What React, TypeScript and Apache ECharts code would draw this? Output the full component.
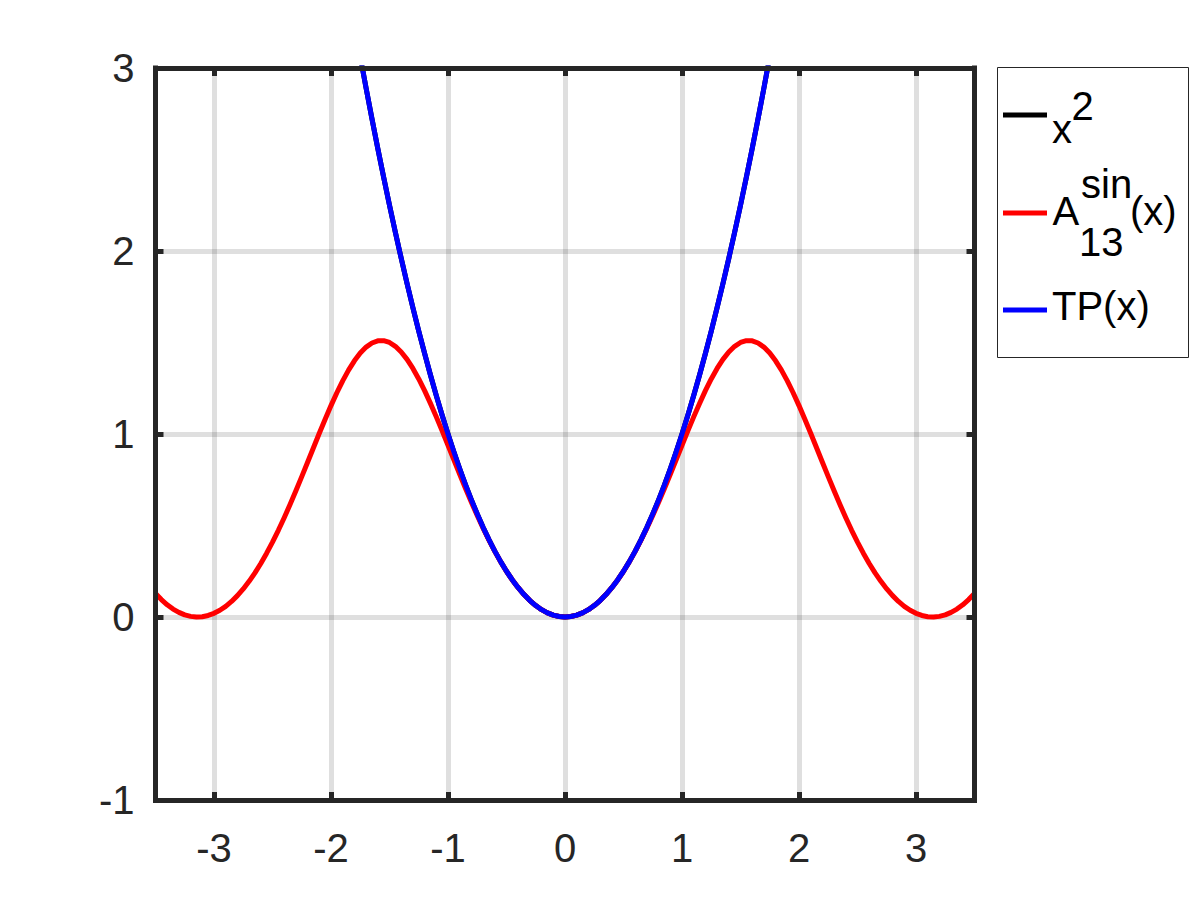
import React, { useEffect, useRef } from "react";
import * as echarts from "echarts";

// x samples for the approximation curve
const xValues = [
  -3.5, -3.45, -3.4, -3.35, -3.3, -3.25, -3.2, -3.15, -3.1, -3.05,
  -3, -2.95, -2.9, -2.85, -2.8, -2.75, -2.7, -2.65, -2.6, -2.55,
  -2.5, -2.45, -2.4, -2.35, -2.3, -2.25, -2.2, -2.15, -2.1, -2.05,
  -2, -1.95, -1.9, -1.85, -1.8, -1.75, -1.7, -1.65, -1.6, -1.55,
  -1.5, -1.45, -1.4, -1.35, -1.3, -1.25, -1.2, -1.15, -1.1, -1.05,
  -1, -0.95, -0.9, -0.85, -0.8, -0.75, -0.7, -0.65, -0.6, -0.55,
  -0.5, -0.45, -0.4, -0.35, -0.3, -0.25, -0.2, -0.15, -0.1, -0.05,
  0,
  0.05, 0.1, 0.15, 0.2, 0.25, 0.3, 0.35, 0.4, 0.45, 0.5,
  0.55, 0.6, 0.65, 0.7, 0.75, 0.8, 0.85, 0.9, 0.95, 1,
  1.05, 1.1, 1.15, 1.2, 1.25, 1.3, 1.35, 1.4, 1.45, 1.5,
  1.55, 1.6, 1.65, 1.7, 1.75, 1.8, 1.85, 1.9, 1.95, 2,
  2.05, 2.1, 2.15, 2.2, 2.25, 2.3, 2.35, 2.4, 2.45, 2.5,
  2.55, 2.6, 2.65, 2.7, 2.75, 2.8, 2.85, 2.9, 2.95, 3,
  3.05, 3.1, 3.15, 3.2, 3.25, 3.3, 3.35, 3.4, 3.45, 3.5,
];

// A_13^sin(x) values
const aSinValues = [
  0.1284, 0.0951, 0.0668, 0.0432, 0.0251, 0.0118, 0.0034, 0.0001, 0.0017, 0.0084,
  0.02, 0.0367, 0.0584, 0.085, 0.1167, 0.1533, 0.1949, 0.2413, 0.2926, 0.3486,
  0.4091, 0.4739, 0.5425, 0.6147, 0.6897, 0.767, 0.8458, 0.925, 1.0038, 1.0804,
  1.1552, 1.2255, 1.2904, 1.3489, 1.3998, 1.4421, 1.4748, 1.4974, 1.5092, 1.5102,
  1.5001, 1.4793, 1.4483, 1.4076, 1.3581, 1.3008, 1.2368, 1.1673, 1.0936, 1.0169,
  0.9383, 0.8591, 0.7802, 0.7026, 0.6271, 0.5544, 0.4851, 0.4197, 0.3585, 0.3017,
  0.2496, 0.2023, 0.1599, 0.1225, 0.09, 0.0625, 0.04, 0.0225, 0.01, 0.0025,
  0,
  0.0025, 0.01, 0.0225, 0.04, 0.0625, 0.09, 0.1225, 0.1599, 0.2023, 0.2496,
  0.3017, 0.3585, 0.4197, 0.4851, 0.5544, 0.6271, 0.7026, 0.7802, 0.8591, 0.9383,
  1.0169, 1.0936, 1.1673, 1.2368, 1.3008, 1.3581, 1.4076, 1.4483, 1.4793, 1.5001,
  1.5102, 1.5092, 1.4974, 1.4748, 1.4421, 1.3998, 1.3489, 1.2904, 1.2255, 1.1552,
  1.0804, 1.0038, 0.925, 0.8458, 0.767, 0.6897, 0.6147, 0.5425, 0.4739, 0.4091,
  0.3486, 0.2926, 0.2413, 0.1949, 0.1533, 0.1167, 0.085, 0.0584, 0.0367, 0.02,
  0.0084, 0.0017, 0.0001, 0.0034, 0.0118, 0.0251, 0.0432, 0.0668, 0.0951, 0.1284,
];

// x samples for the parabola-like curves (beyond these they leave the plot)
const quadX = [
  -1.8, -1.75, -1.7, -1.65, -1.6, -1.55, -1.5, -1.45, -1.4, -1.35,
  -1.3, -1.25, -1.2, -1.15, -1.1, -1.05, -1, -0.95, -0.9, -0.85,
  -0.8, -0.75, -0.7, -0.65, -0.6, -0.55, -0.5, -0.45, -0.4, -0.35,
  -0.3, -0.25, -0.2, -0.15, -0.1, -0.05,
  0,
  0.05, 0.1, 0.15, 0.2, 0.25, 0.3, 0.35, 0.4, 0.45, 0.5,
  0.55, 0.6, 0.65, 0.7, 0.75, 0.8, 0.85, 0.9, 0.95, 1,
  1.05, 1.1, 1.15, 1.2, 1.25, 1.3, 1.35, 1.4, 1.45, 1.5,
  1.55, 1.6, 1.65, 1.7, 1.75, 1.8,
];

// x^2 values
const squareValues = [
  3.24, 3.0625, 2.89, 2.7225, 2.56, 2.4025, 2.25, 2.1025, 1.96, 1.8225,
  1.69, 1.5625, 1.44, 1.3225, 1.21, 1.1025, 1, 0.9025, 0.81, 0.7225,
  0.64, 0.5625, 0.49, 0.4225, 0.36, 0.3025, 0.25, 0.2025, 0.16, 0.1225,
  0.09, 0.0625, 0.04, 0.0225, 0.01, 0.0025,
  0,
  0.0025, 0.01, 0.0225, 0.04, 0.0625, 0.09, 0.1225, 0.16, 0.2025, 0.25,
  0.3025, 0.36, 0.4225, 0.49, 0.5625, 0.64, 0.7225, 0.81, 0.9025, 1,
  1.1025, 1.21, 1.3225, 1.44, 1.5625, 1.69, 1.8225, 1.96, 2.1025, 2.25,
  2.4025, 2.56, 2.7225, 2.89, 3.0625, 3.24,
];

// TP(x) values (coincide with x^2 in the picture)
const tpValues = [
  3.24, 3.0625, 2.89, 2.7225, 2.56, 2.4025, 2.25, 2.1025, 1.96, 1.8225,
  1.69, 1.5625, 1.44, 1.3225, 1.21, 1.1025, 1, 0.9025, 0.81, 0.7225,
  0.64, 0.5625, 0.49, 0.4225, 0.36, 0.3025, 0.25, 0.2025, 0.16, 0.1225,
  0.09, 0.0625, 0.04, 0.0225, 0.01, 0.0025,
  0,
  0.0025, 0.01, 0.0225, 0.04, 0.0625, 0.09, 0.1225, 0.16, 0.2025, 0.25,
  0.3025, 0.36, 0.4225, 0.49, 0.5625, 0.64, 0.7225, 0.81, 0.9025, 1,
  1.1025, 1.21, 1.3225, 1.44, 1.5625, 1.69, 1.8225, 1.96, 2.1025, 2.25,
  2.4025, 2.56, 2.7225, 2.89, 3.0625, 3.24,
];

const seriesNames = ["x^2", "A_13^sin(x)", "TP(x)"];
const seriesColors = ["#000000", "#ff0000", "#0000ff"];

const X_MIN = -3.5;
const X_MAX = 3.5;
const Y_MIN = -1;
const Y_MAX = 3;

export default function App() {
  const ref = useRef<HTMLDivElement>(null);

  useEffect(() => {
    if (!ref.current) return;
    const chart = echarts.init(ref.current, null, { renderer: "svg" });
    const axisColor = "#262626";
    const fontFamily = "Liberation Sans";
    const gridColor = "rgba(38,38,38,0.15)";

    const intLabel = (v: number) => (Math.abs(v - Math.round(v)) < 1e-9 ? String(Math.round(v)) : "");

    const boxLine = { show: true, onZero: false, lineStyle: { color: axisColor, width: 5, cap: "square" } };
    const boxTick = { show: true, inside: true, length: 8, lineStyle: { color: axisColor, width: 5 } };

    const xBase = { type: "value", min: X_MIN, max: X_MAX, splitNumber: 7, gridIndex: 0 };
    const yBase = { type: "value", min: Y_MIN, max: Y_MAX, interval: 1, gridIndex: 0 };

    const legendFont = `40px "${fontFamily}"`;
    const lineSeries = (idx: number, xs: number[], ys: number[]) => ({
      name: seriesNames[idx],
      type: "line",
      xAxisIndex: 0,
      yAxisIndex: 0,
      data: xs.map((x, i) => [x, ys[i]]),
      showSymbol: false,
      symbol: "none",
      smooth: false,
      clip: true,
      z: 2,
      lineStyle: { color: seriesColors[idx], width: 5, join: "round" },
      itemStyle: { color: seriesColors[idx] },
    });
    const legendText = (text: string, x: number, y: number) => ({
      type: "text",
      z: 11,
      style: { text, x, y, font: legendFont, fill: "#000", verticalAlign: "middle", textVerticalAlign: "middle" },
    });

    const option: any = {
      animation: false,
      backgroundColor: "#ffffff",
      grid: {
        left: 155.5,
        right: 225.5,
        top: 68,
        bottom: 100,
        containLabel: false,
        outerBoundsMode: "none",
      },
      xAxis: [
        {
          ...xBase,
          position: "bottom",
          z: 5,
          axisLine: boxLine,
          axisTick: boxTick,
          axisLabel: {
            show: true,
            color: axisColor,
            fontSize: 40,
            fontFamily,
            margin: 28,
            showMinLabel: false,
            showMaxLabel: false,
            formatter: intLabel,
          },
          splitLine: { show: false },
        },
        {
          ...xBase,
          position: "top",
          z: 5,
          axisLine: boxLine,
          axisTick: boxTick,
          axisLabel: { show: false },
          splitLine: { show: false },
        },
        {
          ...xBase,
          position: "bottom",
          z: 0,
          axisLine: { show: false, onZero: false },
          axisTick: { show: false },
          axisLabel: { show: false },
          splitLine: { show: true, lineStyle: { color: gridColor, width: 5 } },
        },
      ],
      yAxis: [
        {
          ...yBase,
          position: "left",
          z: 5,
          axisLine: boxLine,
          axisTick: boxTick,
          axisLabel: {
            show: true,
            color: axisColor,
            fontSize: 40,
            fontFamily,
            margin: 21,
            formatter: intLabel,
          },
          splitLine: { show: false },
        },
        {
          ...yBase,
          position: "right",
          z: 5,
          axisLine: boxLine,
          axisTick: boxTick,
          axisLabel: { show: false },
          splitLine: { show: false },
        },
        {
          ...yBase,
          position: "left",
          z: 0,
          axisLine: { show: false, onZero: false },
          axisTick: { show: false },
          axisLabel: { show: false },
          splitLine: { show: true, lineStyle: { color: gridColor, width: 5 } },
        },
      ],
      series: [
        lineSeries(0, quadX, squareValues),
        lineSeries(1, xValues, aSinValues),
        lineSeries(2, quadX, tpValues),
      ],
      graphic: [
        {
          type: "rect",
          z: 10,
          shape: { x: 997.5, y: 67.5, width: 191, height: 290 },
          style: { fill: "#ffffff", stroke: axisColor, lineWidth: 1 },
        },
        {
          type: "line",
          z: 11,
          shape: { x1: 1003, y1: 115, x2: 1047, y2: 115 },
          style: { stroke: seriesColors[0], lineWidth: 5 },
        },
        {
          type: "line",
          z: 11,
          shape: { x1: 1003, y1: 213, x2: 1047, y2: 213 },
          style: { stroke: seriesColors[1], lineWidth: 5 },
        },
        {
          type: "line",
          z: 11,
          shape: { x1: 1003, y1: 310, x2: 1047, y2: 310 },
          style: { stroke: seriesColors[2], lineWidth: 5 },
        },
        legendText("x", 1052, 129),
        legendText("2", 1071.5, 106),
        legendText("A", 1052.5, 211),
        legendText("sin", 1081, 184),
        legendText("13", 1079, 242),
        legendText("(x)", 1130, 211),
        legendText("TP(x)", 1052, 306),
      ],
    };

    chart.setOption(option);
    return () => {
      chart.dispose();
    };
  }, []);

  return (
    <div
      ref={ref}
      style={{ position: "absolute", left: 0, top: 0, width: 1200, height: 900, background: "#ffffff" }}
    />
  );
}
